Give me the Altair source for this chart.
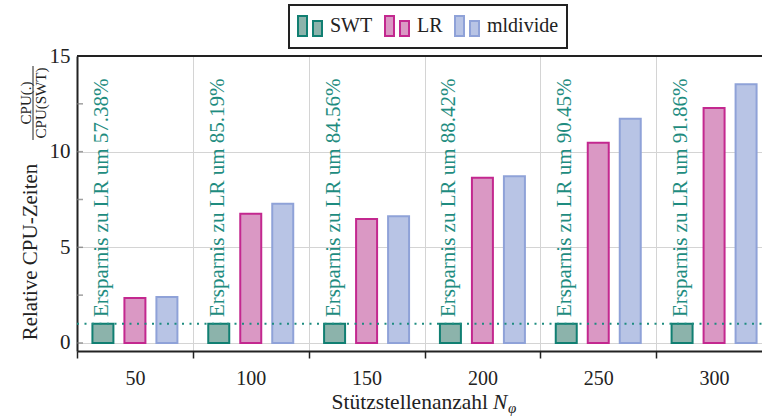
import altair as alt
import pandas as pd

# ---- data ----
n_values = ["50", "100", "150", "200", "250", "300"]
series = ["SWT", "LR", "mldivide"]
swt = [1.0, 1.0, 1.0, 1.0, 1.0, 1.0]
lr = [2.346, 6.752, 6.477, 8.636, 10.47, 12.285]
mldivide = [2.40, 7.28, 6.63, 8.71, 11.72, 13.52]
savings = ["57.38", "85.19", "84.56", "88.42", "90.45", "91.86"]
y_tick_values = [0, 2.5, 5, 7.5, 10, 12.5, 15]
y_label_values = [0, 5, 10, 15]

# ---- style ----
fill_colors = ["#8CB3AB", "#DA98C4", "#B8C4E5"]
stroke_colors = ["#117F72", "#C3288F", "#8FA2D8"]
TEAL = "#1E8C80"
DARK = "#222222"
GRID = "#d4d4d4"
FONT = "'Liberation Serif', 'DejaVu Serif', serif"

W = 685
RANGE_W = 695
H = 295

rows = []
for i, n in enumerate(n_values):
    for s, vals in zip(series, [swt, lr, mldivide]):
        rows.append({"N": n, "series": s, "value": vals[i]})
bars_df = pd.DataFrame(rows)
ann_df = pd.DataFrame({
    "N": n_values,
    "series": ["SWT"] * len(n_values),
    "label": [f"Ersparnis zu LR um {s}%" for s in savings],
})
one_df = pd.DataFrame({"k": [0]})
tick_df = pd.DataFrame({"t": y_tick_values})

x_scale = alt.Scale(domain=n_values, range=[0, RANGE_W], paddingInner=0, paddingOuter=0)
off_scale = alt.Scale(domain=series, paddingInner=0.344, paddingOuter=0.482)
y_scale = alt.Scale(domain=[-0.42, 15], nice=False, zero=False)

x_axis = alt.Axis(title=None, labelFont=FONT, labelFontSize=20, labelColor=DARK,
                  labelAngle=0, labelPadding=10, tickBand="extent", ticks=True,
                  tickSize=7, tickColor=DARK, tickWidth=1.5, domainColor=DARK,
                  domainWidth=2, grid=True, gridColor=GRID, gridWidth=1)
y_axis = alt.Axis(title=None, values=y_label_values, labelFont=FONT, labelFontSize=21,
                  labelColor=DARK, labelPadding=7, ticks=False, tickSize=0,
                  domainColor=DARK, domainWidth=2, grid=True, gridColor=GRID, gridWidth=1)

sym_path = "M-1,-0.83H-0.25V0.83H-1Z M0.25,-0.42H1V0.83H0.25Z"
legend = alt.Legend(title=None, orient="none", legendX=212, legendY=-51,
                    direction="horizontal", symbolType=sym_path, symbolSize=576,
                    symbolStrokeWidth=2, labelFont=FONT, labelFontSize=20,
                    labelColor=DARK, labelOffset=7, columnPadding=8, padding=8,
                    strokeColor=DARK)

bars = alt.Chart(bars_df).mark_bar(strokeWidth=2).encode(
    x=alt.X("N:N", sort=n_values, scale=x_scale, axis=x_axis),
    xOffset=alt.XOffset("series:N", sort=series, scale=off_scale),
    y=alt.Y("value:Q", scale=y_scale, axis=y_axis, stack=None),
    y2=alt.Y2Datum(0),
    fill=alt.Fill("series:N", sort=series,
                  scale=alt.Scale(domain=series, range=fill_colors), legend=legend),
    stroke=alt.Stroke("series:N", sort=series,
                      scale=alt.Scale(domain=series, range=stroke_colors), legend=legend),
)

ann = alt.Chart(ann_df).mark_text(angle=270, align="left", baseline="alphabetic", dy=5,
                                  font=FONT, fontSize=21, color=TEAL).encode(
    x=alt.X("N:N", sort=n_values, scale=x_scale, axis=x_axis),
    xOffset=alt.XOffset("series:N", sort=series, scale=off_scale),
    y=alt.value(261),
    text="label:N",
)

one_line = alt.Chart(one_df).mark_rule(color=TEAL, strokeWidth=2, strokeDash=[2, 5.5]).encode(
    y=alt.YDatum(1, axis=y_axis),
    x=alt.value(0),
    x2=alt.value(RANGE_W),
)

minor = alt.Chart(tick_df).mark_tick(orient="horizontal", size=6, thickness=1.5,
                                     color="#777777").encode(
    y=alt.Y("t:Q", axis=y_axis),
    x=alt.value(3),
)

top_border = alt.Chart(one_df).mark_rule(color=DARK, strokeWidth=2).encode(
    y=alt.value(0), x=alt.value(0), x2=alt.value(RANGE_W)
)

# y-axis title with fraction
ytitle = alt.Chart(one_df).mark_text(angle=270, align="center", baseline="alphabetic",
                                     font=FONT, fontSize=21, color=DARK).encode(
    x=alt.value(-40), y=alt.value(196), text=alt.value("Relative CPU-Zeiten"))
num = alt.Chart(one_df).mark_text(angle=270, align="center", baseline="alphabetic",
                                  font=FONT, fontSize=15, color=DARK).encode(
    x=alt.value(-46), y=alt.value(47), text=alt.value("CPU(.)"))
frac_bar = alt.Chart(one_df).mark_rule(color=DARK, strokeWidth=1).encode(
    x=alt.value(-44), y=alt.value(10), y2=alt.value(84))
den = alt.Chart(one_df).mark_text(angle=270, align="center", baseline="top",
                                  font=FONT, fontSize=15, color=DARK).encode(
    x=alt.value(-43), y=alt.value(47), text=alt.value("CPU(SWT)"))

# x-axis title
xt1 = alt.Chart(one_df).mark_text(align="right", baseline="alphabetic", font=FONT,
                                  fontSize=21.5, color=DARK).encode(
    x=alt.value(411), y=alt.value(353), text=alt.value("Stützstellenanzahl"))
xt2 = alt.Chart(one_df).mark_text(align="left", baseline="alphabetic", font=FONT,
                                  fontSize=21.5, fontStyle="italic", color=DARK).encode(
    x=alt.value(416), y=alt.value(353), text=alt.value("N"))
xt3 = alt.Chart(one_df).mark_text(align="left", baseline="alphabetic", font=FONT,
                                  fontSize=15, fontStyle="italic", color=DARK).encode(
    x=alt.value(431), y=alt.value(357), text=alt.value("φ"))

chart = alt.layer(
    bars, one_line, ann, minor, top_border, ytitle, num, frac_bar, den, xt1, xt2, xt3
).properties(
    width=W, height=H,
    autosize=alt.AutoSizeParams(type="none"),
    padding={"left": 77, "top": 56, "right": 0, "bottom": 66},
).configure_view(stroke=None).configure(font=FONT, background="white").configure_legend(strokeWidth=2)

chart.save("out.html", embed_options={"renderer": "svg", "actions": False})
